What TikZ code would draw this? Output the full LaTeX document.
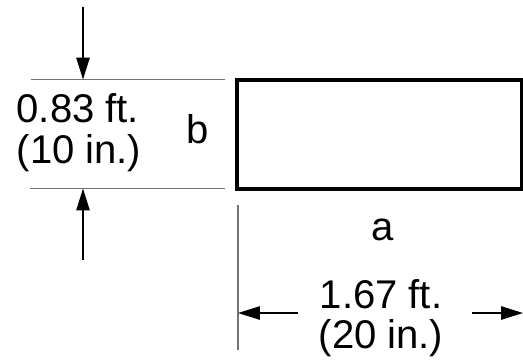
\documentclass[tikz,border=0pt]{standalone}
\usepackage{fontspec}
\setmainfont{Liberation Sans}
\usetikzlibrary{arrows.meta,positioning}
\begin{document}
\begin{tikzpicture}[
    x=0.02cm,y=-0.02cm,
    sectbox/.style={draw,line width=1.9pt,inner sep=0pt,minimum width=5.7cm,minimum height=2.18cm},
    extline/.style={black!55,line width=0.8pt},
    dimarrow/.style={-{Triangle[length=12.5pt,width=7.6pt]},line width=0.9pt},
    dimtext/.style={font=\fontsize{22.8}{23}\selectfont,align=center,inner sep=0pt}
]
\useasboundingbox (0,0) rectangle (523,360);
\node[sectbox] (sect) at (379.5,134.5) {};
\coordinate (hiL) at (31,79.5);
\coordinate (hiR) at (225,79.5);
\coordinate (loL) at (30,188.5);
\coordinate (loR) at (225,188.5);
\coordinate (vTop) at (238,205);
\coordinate (vBot) at (238,350);
\coordinate (bUp) at (83,7);
\coordinate (bDn) at (83,260);
\coordinate (aL) at (298,313);
\coordinate (aR) at (472,313);
\coordinate (aEnd) at (523,313);
\node[dimtext,align=left] (bval) at (79,132.5) {0.83 ft.\\(10 in.)};
\node[dimtext] (bname) at (197.5,129) {b};
\node[dimtext] (aname) at (382.5,230) {a};
\node[dimtext] (aval) at (381,318) {1.67 ft.\\(20 in.)};
\draw[extline] (hiL) -- (hiR);
\draw[extline] (loL) -- (loR);
\draw[extline] (vTop) -- (vBot);
\draw[dimarrow] (bUp) -- (bUp |- hiL);
\draw[dimarrow] (bDn) -- (bDn |- loL);
\draw[dimarrow] (aL) -- (aL -| vTop);
\draw[dimarrow] (aR) -- (aEnd);
\end{tikzpicture}
\end{document}
